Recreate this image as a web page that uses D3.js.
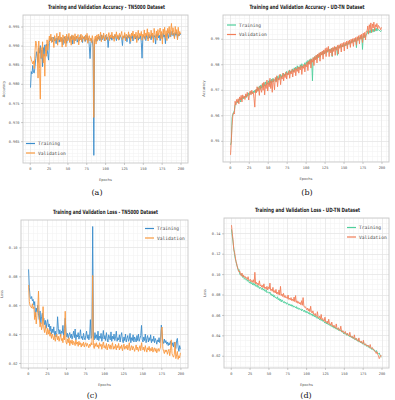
<!DOCTYPE html>
<html>
<head>
<meta charset="utf-8">
<script src="https://cdn.jsdelivr.net/npm/d3@7"></script>
<style>
  body { margin: 0; background: #fff; }
  svg { display: block; }
  .tick text { font-family: "DejaVu Sans Mono", monospace; fill: #555; }
  .grid line { shape-rendering: crispEdges; }
</style>
</head>
<body>
<svg id="chart"></svg>
<script>
// ---- data ----
const epochs = d3.range(1, 201);
const xTicks = [0, 25, 50, 75, 100, 125, 150, 175, 200];
const seriesNames = ["Training", "Validation"];

const accTn5000Train = [
  0.9790,0.9832,0.9826,0.9848,0.9830,0.9828,0.9846,0.9866,0.9884,0.9872,
  0.9856,0.9894,0.9880,0.9900,0.9866,0.9888,0.9845,0.9895,0.9872,0.9902,
  0.9886,0.9904,0.9893,0.9876,0.9862,0.9908,0.9919,0.9914,0.9921,0.9910,
  0.9916,0.9922,0.9912,0.9918,0.9905,0.9920,0.9914,0.9924,0.9909,0.9917,
  0.9921,0.9911,0.9919,0.9902,0.9916,0.9923,0.9913,0.9920,0.9906,0.9918,
  0.9924,0.9914,0.9910,0.9921,0.9917,0.9926,0.9904,0.9919,0.9922,0.9912,
  0.9918,0.9925,0.9909,0.9916,0.9921,0.9913,0.9927,0.9915,0.9920,0.9908,
  0.9922,0.9917,0.9924,0.9911,0.9919,0.9926,0.9914,0.9920,0.9898,0.9866,
  0.9905,0.9918,0.9912,0.9896,0.9613,0.9908,0.9915,0.9920,0.9911,0.9922,
  0.9917,0.9925,0.9913,0.9919,0.9928,0.9915,0.9921,0.9926,0.9912,0.9920,
  0.9927,0.9916,0.9922,0.9895,0.9919,0.9925,0.9918,0.9923,0.9914,0.9926,
  0.9920,0.9917,0.9928,0.9921,0.9913,0.9925,0.9919,0.9924,0.9916,0.9927,
  0.9922,0.9918,0.9900,0.9925,0.9920,0.9927,0.9915,0.9923,0.9910,0.9926,
  0.9921,0.9928,0.9905,0.9924,0.9919,0.9926,0.9912,0.9922,0.9929,0.9917,
  0.9925,0.9920,0.9927,0.9914,0.9923,0.9918,0.9926,0.9908,0.9867,0.9921,
  0.9927,0.9919,0.9925,0.9913,0.9928,0.9922,0.9917,0.9929,0.9920,0.9926,
  0.9915,0.9930,0.9923,0.9918,0.9927,0.9921,0.9904,0.9929,0.9924,0.9931,
  0.9920,0.9927,0.9913,0.9930,0.9925,0.9918,0.9932,0.9922,0.9928,0.9905,
  0.9930,0.9924,0.9933,0.9919,0.9929,0.9935,0.9923,0.9931,0.9938,0.9926,
  0.9932,0.9920,0.9934,0.9927,0.9936,0.9918,0.9930,0.9925,0.9933,0.9928
];
const accTn5000Val = [
  0.9872,0.9864,0.9858,0.9852,0.9860,0.9840,0.9886,0.9912,0.9905,0.9880,
  0.9815,0.9912,0.9840,0.9760,0.9895,0.9868,0.9910,0.9855,0.9878,0.9820,
  0.9898,0.9872,0.9915,0.9888,0.9905,0.9925,0.9912,0.9930,0.9908,0.9922,
  0.9918,0.9895,0.9926,0.9912,0.9920,0.9932,0.9901,0.9924,0.9915,0.9935,
  0.9910,0.9922,0.9896,0.9928,0.9918,0.9906,0.9925,0.9897,0.9930,0.9912,
  0.9920,0.9932,0.9908,0.9924,0.9901,0.9928,0.9915,0.9926,0.9905,0.9931,
  0.9913,0.9924,0.9918,0.9929,0.9902,0.9922,0.9915,0.9930,0.9910,0.9926,
  0.9918,0.9923,0.9911,0.9928,0.9915,0.9932,0.9906,0.9921,0.9926,0.9912,
  0.9920,0.9908,0.9926,0.9915,0.9712,0.9918,0.9925,0.9904,0.9928,0.9913,
  0.9930,0.9916,0.9923,0.9935,0.9910,0.9927,0.9918,0.9933,0.9920,0.9912,
  0.9926,0.9930,0.9915,0.9922,0.9934,0.9913,0.9928,0.9920,0.9935,0.9918,
  0.9925,0.9911,0.9930,0.9922,0.9936,0.9917,0.9928,0.9914,0.9932,0.9923,
  0.9929,0.9937,0.9915,0.9926,0.9920,0.9934,0.9912,0.9930,0.9924,0.9918,
  0.9936,0.9922,0.9929,0.9911,0.9933,0.9925,0.9938,0.9916,0.9930,0.9921,
  0.9935,0.9908,0.9928,0.9940,0.9919,0.9932,0.9925,0.9937,0.9914,0.9930,
  0.9922,0.9941,0.9916,0.9933,0.9926,0.9944,0.9912,0.9935,0.9928,0.9918,
  0.9940,0.9924,0.9933,0.9908,0.9945,0.9929,0.9920,0.9938,0.9914,0.9942,
  0.9926,0.9935,0.9946,0.9918,0.9937,0.9904,0.9943,0.9929,0.9948,0.9921,
  0.9939,0.9913,0.9945,0.9932,0.9950,0.9922,0.9941,0.9958,0.9928,0.9947,
  0.9935,0.9918,0.9950,0.9930,0.9942,0.9915,0.9948,0.9925,0.9937,0.9930
];
const accUdtnTrain = [
  0.9484,0.9495,0.9590,0.9605,0.9612,0.9618,0.9640,0.9645,0.9650,0.9655,
  0.9648,0.9660,0.9665,0.9652,0.9668,0.9662,0.9671,0.9665,0.9674,0.9669,
  0.9677,0.9670,0.9682,0.9675,0.9688,0.9679,0.9690,0.9684,0.9692,0.9686,
  0.9695,0.9688,0.9698,0.9691,0.9703,0.9694,0.9710,0.9697,0.9715,0.9701,
  0.9719,0.9706,0.9722,0.9710,0.9726,0.9714,0.9731,0.9718,0.9728,0.9722,
  0.9735,0.9719,0.9738,0.9726,0.9741,0.9729,0.9745,0.9732,0.9740,0.9736,
  0.9748,0.9733,0.9752,0.9740,0.9756,0.9744,0.9760,0.9748,0.9757,0.9751,
  0.9765,0.9754,0.9762,0.9758,0.9772,0.9759,0.9768,0.9763,0.9778,0.9765,
  0.9774,0.9769,0.9782,0.9770,0.9786,0.9775,0.9789,0.9778,0.9794,0.9781,
  0.9790,0.9784,0.9798,0.9785,0.9802,0.9789,0.9795,0.9792,0.9806,0.9794,
  0.9810,0.9798,0.9815,0.9801,0.9818,0.9806,0.9822,0.9810,0.9735,0.9826,
  0.9814,0.9830,0.9818,0.9834,0.9822,0.9838,0.9826,0.9842,0.9829,0.9846,
  0.9836,0.9849,0.9837,0.9853,0.9840,0.9852,0.9844,0.9856,0.9847,0.9858,
  0.9850,0.9860,0.9852,0.9862,0.9830,0.9864,0.9855,0.9866,0.9857,0.9868,
  0.9860,0.9835,0.9862,0.9872,0.9864,0.9874,0.9866,0.9876,0.9868,0.9878,
  0.9870,0.9880,0.9872,0.9883,0.9875,0.9886,0.9878,0.9889,0.9881,0.9892,
  0.9884,0.9895,0.9887,0.9898,0.9890,0.9900,0.9865,0.9903,0.9895,0.9906,
  0.9898,0.9908,0.9900,0.9910,0.9858,0.9912,0.9904,0.9915,0.9906,0.9918,
  0.9918,0.9930,0.9920,0.9932,0.9922,0.9935,0.9924,0.9937,0.9926,0.9938,
  0.9928,0.9940,0.9930,0.9942,0.9932,0.9936,0.9934,0.9930,0.9928,0.9933
];
const accUdtnVal = [
  0.9445,0.9500,0.9560,0.9598,0.9610,0.9605,0.9655,0.9640,0.9662,0.9651,
  0.9665,0.9645,0.9672,0.9660,0.9678,0.9652,0.9680,0.9668,0.9675,0.9662,
  0.9684,0.9672,0.9690,0.9676,0.9660,0.9688,0.9695,0.9680,0.9698,0.9685,
  0.9690,0.9665,0.9632,0.9700,0.9688,0.9712,0.9694,0.9708,0.9678,0.9715,
  0.9702,0.9690,0.9725,0.9698,0.9730,0.9680,0.9720,0.9705,0.9738,0.9695,
  0.9728,0.9712,0.9745,0.9705,0.9735,0.9690,0.9742,0.9728,0.9700,0.9748,
  0.9730,0.9755,0.9712,0.9745,0.9738,0.9760,0.9720,0.9752,0.9742,0.9765,
  0.9735,0.9760,0.9748,0.9770,0.9742,0.9765,0.9758,0.9775,0.9745,0.9772,
  0.9762,0.9780,0.9750,0.9776,0.9768,0.9785,0.9755,0.9782,0.9772,0.9790,
  0.9765,0.9788,0.9778,0.9795,0.9760,0.9792,0.9784,0.9800,0.9770,0.9798,
  0.9790,0.9808,0.9775,0.9812,0.9800,0.9818,0.9785,0.9820,0.9808,0.9826,
  0.9795,0.9830,0.9818,0.9836,0.9805,0.9840,0.9828,0.9845,0.9812,0.9848,
  0.9836,0.9852,0.9820,0.9856,0.9842,0.9862,0.9830,0.9865,0.9850,0.9870,
  0.9830,0.9858,0.9845,0.9862,0.9832,0.9866,0.9850,0.9870,0.9835,0.9868,
  0.9855,0.9874,0.9840,0.9876,0.9862,0.9880,0.9848,0.9882,0.9868,0.9885,
  0.9852,0.9886,0.9874,0.9890,0.9860,0.9892,0.9878,0.9895,0.9866,0.9898,
  0.9882,0.9900,0.9870,0.9902,0.9888,0.9905,0.9875,0.9908,0.9892,0.9912,
  0.9880,0.9915,0.9898,0.9918,0.9885,0.9922,0.9904,0.9925,0.9895,0.9930,
  0.9928,0.9950,0.9918,0.9955,0.9935,0.9962,0.9925,0.9958,0.9942,0.9965,
  0.9930,0.9955,0.9945,0.9960,0.9938,0.9952,0.9948,0.9942,0.9935,0.9945
];
const lossTn5000Train = [
  0.0848,0.0720,0.0655,0.0645,0.0660,0.0630,0.0640,0.0600,0.0625,0.0520,
  0.0580,0.0555,0.0600,0.0540,0.0500,0.0560,0.0470,0.0520,0.0545,0.0490,
  0.0510,0.0465,0.0495,0.0440,0.0480,0.0500,0.0450,0.0470,0.0420,0.0455,
  0.0400,0.0435,0.0410,0.0450,0.0390,0.0420,0.0380,0.0410,0.0520,0.0440,
  0.0400,0.0430,0.0385,0.0420,0.0405,0.0460,0.0390,0.0440,0.0510,0.0420,
  0.0380,0.0405,0.0370,0.0395,0.0410,0.0375,0.0400,0.0365,0.0390,0.0420,
  0.0375,0.0435,0.0360,0.0395,0.0380,0.0410,0.0365,0.0390,0.0430,0.0370,
  0.0385,0.0360,0.0405,0.0375,0.0360,0.0390,0.0420,0.0370,0.0395,0.0360,
  0.0385,0.0500,0.0370,0.0390,0.1145,0.0380,0.0360,0.0410,0.0370,0.0395,
  0.0360,0.0420,0.0355,0.0385,0.0370,0.0405,0.0350,0.0380,0.0425,0.0365,
  0.0390,0.0355,0.0410,0.0370,0.0345,0.0395,0.0380,0.0360,0.0415,0.0350,
  0.0385,0.0365,0.0400,0.0355,0.0380,0.0420,0.0350,0.0375,0.0360,0.0395,
  0.0345,0.0385,0.0410,0.0360,0.0340,0.0380,0.0355,0.0400,0.0345,0.0370,
  0.0390,0.0350,0.0365,0.0405,0.0340,0.0375,0.0355,0.0395,0.0345,0.0380,
  0.0365,0.0345,0.0390,0.0355,0.0400,0.0350,0.0370,0.0390,0.0460,0.0360,
  0.0345,0.0380,0.0355,0.0400,0.0340,0.0370,0.0390,0.0345,0.0375,0.0355,
  0.0395,0.0340,0.0365,0.0350,0.0385,0.0340,0.0370,0.0355,0.0330,0.0360,
  0.0345,0.0375,0.0340,0.0360,0.0462,0.0400,0.0350,0.0335,0.0365,0.0340,
  0.0355,0.0330,0.0345,0.0320,0.0340,0.0325,0.0350,0.0330,0.0320,0.0340,
  0.0310,0.0345,0.0325,0.0300,0.0355,0.0370,0.0310,0.0280,0.0320,0.0295
];
const lossTn5000Val = [
  0.0740,0.0625,0.0595,0.0590,0.0580,0.0610,0.0575,0.0590,0.0500,0.0550,
  0.0470,0.0530,0.0580,0.0698,0.0520,0.0450,0.0480,0.0430,0.0455,0.0590,
  0.0440,0.0410,0.0460,0.0420,0.0395,0.0440,0.0400,0.0430,0.0385,0.0410,
  0.0370,0.0400,0.0380,0.0360,0.0395,0.0350,0.0380,0.0400,0.0360,0.0385,
  0.0350,0.0375,0.0400,0.0355,0.0370,0.0340,0.0390,0.0360,0.0558,0.0345,
  0.0330,0.0365,0.0340,0.0375,0.0320,0.0355,0.0335,0.0360,0.0325,0.0350,
  0.0340,0.0320,0.0360,0.0330,0.0345,0.0315,0.0350,0.0325,0.0340,0.0310,
  0.0335,0.0320,0.0345,0.0310,0.0330,0.0340,0.0315,0.0335,0.0320,0.0305,
  0.0330,0.0315,0.0340,0.0325,0.0806,0.0320,0.0300,0.0335,0.0315,0.0340,
  0.0310,0.0325,0.0300,0.0340,0.0315,0.0330,0.0295,0.0325,0.0345,0.0305,
  0.0320,0.0300,0.0335,0.0290,0.0315,0.0330,0.0300,0.0325,0.0295,0.0320,
  0.0340,0.0295,0.0315,0.0300,0.0330,0.0290,0.0320,0.0305,0.0335,0.0290,
  0.0315,0.0300,0.0325,0.0285,0.0310,0.0330,0.0295,0.0315,0.0300,0.0325,
  0.0290,0.0310,0.0340,0.0285,0.0305,0.0320,0.0290,0.0315,0.0300,0.0280,
  0.0305,0.0325,0.0290,0.0310,0.0280,0.0300,0.0320,0.0285,0.0340,0.0300,
  0.0290,0.0310,0.0280,0.0320,0.0295,0.0275,0.0305,0.0290,0.0315,0.0280,
  0.0300,0.0285,0.0310,0.0275,0.0295,0.0305,0.0280,0.0300,0.0270,0.0290,
  0.0300,0.0280,0.0295,0.0310,0.0430,0.0448,0.0300,0.0280,0.0265,0.0290,
  0.0275,0.0290,0.0260,0.0280,0.0295,0.0250,0.0285,0.0360,0.0265,0.0250,
  0.0240,0.0260,0.0345,0.0230,0.0255,0.0280,0.0225,0.0250,0.0235,0.0270
];
const lossUdtnTrain = [
  0.1440,0.1370,0.1315,0.1255,0.1195,0.1150,0.1125,0.1085,0.1070,0.1035,
  0.1045,0.1000,0.0990,0.1005,0.0975,0.0968,0.0982,0.0950,0.0958,0.0945,
  0.0952,0.0930,0.0942,0.0925,0.0912,0.0928,0.0905,0.0918,0.0895,0.0910,
  0.0890,0.0908,0.0882,0.0878,0.0895,0.0870,0.0880,0.0858,0.0872,0.0862,
  0.0850,0.0866,0.0842,0.0855,0.0835,0.0830,0.0848,0.0818,0.0826,0.0820,
  0.0812,0.0825,0.0798,0.0805,0.0785,0.0800,0.0775,0.0790,0.0768,0.0772,
  0.0760,0.0778,0.0748,0.0762,0.0740,0.0755,0.0728,0.0748,0.0735,0.0720,
  0.0732,0.0715,0.0725,0.0705,0.0718,0.0712,0.0695,0.0708,0.0690,0.0702,
  0.0685,0.0698,0.0676,0.0688,0.0680,0.0668,0.0682,0.0660,0.0672,0.0655,
  0.0665,0.0652,0.0660,0.0640,0.0655,0.0645,0.0632,0.0648,0.0625,0.0638,
  0.0620,0.0632,0.0612,0.0625,0.0605,0.0615,0.0598,0.0610,0.0588,0.0602,
  0.0582,0.0595,0.0575,0.0570,0.0585,0.0560,0.0568,0.0552,0.0565,0.0545,
  0.0555,0.0538,0.0548,0.0530,0.0520,0.0535,0.0512,0.0525,0.0505,0.0510,
  0.0498,0.0508,0.0488,0.0495,0.0480,0.0492,0.0470,0.0482,0.0465,0.0472,
  0.0458,0.0468,0.0448,0.0460,0.0442,0.0450,0.0432,0.0445,0.0425,0.0415,
  0.0428,0.0410,0.0418,0.0400,0.0412,0.0395,0.0402,0.0385,0.0395,0.0378,
  0.0388,0.0370,0.0382,0.0362,0.0358,0.0372,0.0350,0.0345,0.0358,0.0335,
  0.0342,0.0328,0.0338,0.0320,0.0315,0.0335,0.0310,0.0302,0.0312,0.0295,
  0.0290,0.0302,0.0282,0.0288,0.0272,0.0280,0.0262,0.0270,0.0255,0.0262,
  0.0248,0.0240,0.0252,0.0232,0.0225,0.0218,0.0228,0.0205,0.0195,0.0188
];
const lossUdtnVal = [
  0.1480,0.1400,0.1340,0.1240,0.1215,0.1170,0.1120,0.1100,0.1060,0.1045,
  0.1020,0.1030,0.1000,0.0985,0.1010,0.0975,0.0990,0.0968,0.0978,0.0960,
  0.0965,0.0948,0.0975,0.0940,0.0935,0.0950,0.0925,0.0938,0.0920,0.0945,
  0.0915,0.1018,0.0905,0.0920,0.0898,0.0912,0.0890,0.0935,0.0885,0.0895,
  0.0872,0.0890,0.0868,0.0905,0.0860,0.0872,0.0852,0.0880,0.0845,0.0875,
  0.0855,0.0912,0.0840,0.0852,0.0832,0.0870,0.0822,0.0838,0.0815,0.0850,
  0.0805,0.0822,0.0800,0.0845,0.0795,0.0880,0.0790,0.0805,0.0780,0.0812,
  0.0772,0.0790,0.0768,0.0778,0.0760,0.0795,0.0752,0.0765,0.0748,0.0770,
  0.0740,0.0755,0.0735,0.0775,0.0730,0.0790,0.0722,0.0738,0.0715,0.0730,
  0.0708,0.0722,0.0700,0.0740,0.0695,0.0770,0.0688,0.0675,0.0680,0.0665,
  0.0650,0.0668,0.0640,0.0660,0.0632,0.0685,0.0625,0.0618,0.0640,0.0605,
  0.0598,0.0615,0.0590,0.0585,0.0632,0.0575,0.0570,0.0588,0.0560,0.0605,
  0.0552,0.0565,0.0545,0.0538,0.0578,0.0530,0.0525,0.0540,0.0515,0.0558,
  0.0508,0.0515,0.0498,0.0530,0.0490,0.0485,0.0500,0.0478,0.0472,0.0512,
  0.0465,0.0458,0.0475,0.0452,0.0448,0.0490,0.0440,0.0432,0.0445,0.0425,
  0.0420,0.0438,0.0412,0.0408,0.0422,0.0398,0.0395,0.0430,0.0388,0.0382,
  0.0392,0.0375,0.0370,0.0405,0.0362,0.0358,0.0370,0.0348,0.0342,0.0375,
  0.0338,0.0332,0.0345,0.0325,0.0320,0.0352,0.0312,0.0308,0.0318,0.0298,
  0.0295,0.0305,0.0288,0.0282,0.0310,0.0275,0.0270,0.0280,0.0262,0.0258,
  0.0245,0.0235,0.0222,0.0240,0.0212,0.0200,0.0172,0.0185,0.0205,0.0200
];

const accTn5000Ticks = [0.965, 0.970, 0.975, 0.980, 0.985, 0.990, 0.995];
const accUdtnTicks = [0.95, 0.96, 0.97, 0.98, 0.99];
const lossTn5000Ticks = [0.02, 0.04, 0.06, 0.08, 0.10];
const lossUdtnTicks = [0.02, 0.04, 0.06, 0.08, 0.10, 0.12, 0.14];

// ---- layout ----
const width = 395, height = 400;
const svg = d3.select("#chart").attr("width", width).attr("height", height);

const tabColors = ["#3b8ccb", "#f9993f"];
const set2Colors = ["#4fcf9c", "#f27e58"];

const panels = [
  {
    title: "Training and Validation Accuracy - TN5000 Dataset",
    yLabel: "Accuracy", tag: "(a)",
    frame: { x0: 23, x1: 188, y0: 15, y1: 163 },
    yDomain: [0.9593, 0.9980], yTicks: accTn5000Ticks, yFormat: ".3f", yMinor: 0.001,
    series: [accTn5000Train, accTn5000Val], colors: tabColors,
    legend: { x: 26, y: 143.5 }, tagPos: { x: 97, y: 195 }, titleLen: 117
  },
  {
    title: "Training and Validation Accuracy - UD-TN Dataset",
    yLabel: "Accuracy", tag: "(b)",
    frame: { x0: 223, x1: 389, y0: 15, y1: 162 },
    yDomain: [0.9417, 0.9993], yTicks: accUdtnTicks, yFormat: ".2f", yMinor: 0.002,
    series: [accUdtnTrain, accUdtnVal], colors: set2Colors,
    legend: { x: 227, y: 25 }, tagPos: { x: 307, y: 195 }, titleLen: 115
  },
  {
    title: "Training and Validation Loss - TN5000 Dataset",
    yLabel: "Loss", tag: "(c)",
    frame: { x0: 21, x1: 188, y0: 220, y1: 368 },
    yDomain: [0.0165, 0.1190], yTicks: lossTn5000Ticks, yFormat: ".2f", yMinor: 0.005,
    series: [lossTn5000Train, lossTn5000Val], colors: tabColors,
    legend: { x: 145, y: 228.5 }, tagPos: { x: 92, y: 398 }, titleLen: 105
  },
  {
    title: "Training and Validation Loss - UD-TN Dataset",
    yLabel: "Loss", tag: "(d)",
    frame: { x0: 224, x1: 389, y0: 218, y1: 368 },
    yDomain: [0.0080, 0.1550], yTicks: lossUdtnTicks, yFormat: ".2f", yMinor: 0.005,
    series: [lossUdtnTrain, lossUdtnVal], colors: set2Colors,
    legend: { x: 347, y: 227.5 }, tagPos: { x: 306, y: 398 }, titleLen: 105
  }
];

function stepValues(lo, hi, step) {
  const start = Math.ceil(lo / step), end = Math.floor(hi / step);
  return d3.range(start, end + 1).map(i => +(i * step).toFixed(6));
}

function drawPanel(p) {
  const f = p.frame;
  const w = f.x1 - f.x0, h = f.y1 - f.y0;
  const g = svg.append("g");

  const x = d3.scaleLinear().domain([-8.95, 209.95]).range([f.x0, f.x1]);
  const y = d3.scaleLinear().domain(p.yDomain).range([f.y1, f.y0]);

  g.append("rect")
    .attr("x", f.x0).attr("y", f.y0).attr("width", w).attr("height", h)
    .attr("fill", "#fff");

  // minor grid, then major grid
  const xMinor = stepValues(x.domain()[0], x.domain()[1], 6.25);
  const yMinor = stepValues(p.yDomain[0], p.yDomain[1], p.yMinor);

  g.append("g").attr("class", "grid")
    .attr("transform", `translate(0,${f.y1})`)
    .call(d3.axisBottom(x).tickValues(xMinor).tickSize(-h).tickFormat(""))
    .call(s => s.select(".domain").remove())
    .selectAll("line").attr("stroke", "#f1f1f1").attr("stroke-width", 0.5);
  g.append("g").attr("class", "grid")
    .attr("transform", `translate(${f.x0},0)`)
    .call(d3.axisLeft(y).tickValues(yMinor).tickSize(-w).tickFormat(""))
    .call(s => s.select(".domain").remove())
    .selectAll("line").attr("stroke", "#f1f1f1").attr("stroke-width", 0.5);
  g.append("g").attr("class", "grid")
    .attr("transform", `translate(0,${f.y1})`)
    .call(d3.axisBottom(x).tickValues(xTicks).tickSize(-h).tickFormat(""))
    .call(s => s.select(".domain").remove())
    .selectAll("line").attr("stroke", "#e3e3e3").attr("stroke-width", 0.6);
  g.append("g").attr("class", "grid")
    .attr("transform", `translate(${f.x0},0)`)
    .call(d3.axisLeft(y).tickValues(p.yTicks).tickSize(-w).tickFormat(""))
    .call(s => s.select(".domain").remove())
    .selectAll("line").attr("stroke", "#e3e3e3").attr("stroke-width", 0.6);

  // lines
  const line = d3.line().x((d, i) => x(epochs[i])).y(d => y(d));
  p.series.forEach((values, k) => {
    g.append("path")
      .datum(values)
      .attr("fill", "none")
      .attr("stroke", p.colors[k])
      .attr("stroke-width", 0.9)
      .attr("stroke-linejoin", "round")
      .attr("d", line);
  });

  // frame
  g.append("rect")
    .attr("x", f.x0).attr("y", f.y0).attr("width", w).attr("height", h)
    .attr("fill", "none").attr("stroke", "#c8c8c8").attr("stroke-width", 0.9);

  // axes
  const xAxis = g.append("g")
    .attr("transform", `translate(0,${f.y1})`)
    .call(d3.axisBottom(x).tickValues(xTicks).tickSize(2).tickPadding(2).tickFormat(d3.format("d")));
  const yAxis = g.append("g")
    .attr("transform", `translate(${f.x0},0)`)
    .call(d3.axisLeft(y).tickValues(p.yTicks).tickSize(2).tickPadding(1.5).tickFormat(d3.format(p.yFormat)));
  [xAxis, yAxis].forEach(a => {
    a.select(".domain").remove();
    a.selectAll(".tick line").attr("stroke", "#999").attr("stroke-width", 0.5);
    a.selectAll(".tick text").attr("font-size", 3.6);
  });

  // labels
  g.append("text")
    .attr("x", (f.x0 + f.x1) / 2 + 1).attr("y", f.y0 - 6)
    .attr("text-anchor", "middle")
    .attr("font-family", "'Liberation Sans Narrow', 'DejaVu Sans Condensed', sans-serif")
    .attr("font-weight", "bold").attr("font-size", 5.8).attr("fill", "#222")
    .attr("textLength", p.titleLen).attr("lengthAdjust", "spacingAndGlyphs")
    .text(p.title);
  g.append("text")
    .attr("x", (f.x0 + f.x1) / 2).attr("y", f.y1 + 17.5)
    .attr("text-anchor", "middle")
    .attr("font-family", "'DejaVu Sans', sans-serif")
    .attr("font-size", 3.6).attr("fill", "#555")
    .text("Epochs");
  g.append("text")
    .attr("transform", `translate(${f.x0 - 18},${(f.y0 + f.y1) / 2}) rotate(-90)`)
    .attr("text-anchor", "middle")
    .attr("font-family", "'DejaVu Sans', sans-serif")
    .attr("font-size", 3.6).attr("fill", "#555")
    .text(p.yLabel);
  g.append("text")
    .attr("x", p.tagPos.x).attr("y", p.tagPos.y)
    .attr("text-anchor", "middle")
    .attr("font-family", "'DejaVu Serif', serif")
    .attr("font-size", 8).attr("fill", "#111")
    .text(p.tag);

  // legend
  const lg = g.append("g").attr("transform", `translate(${p.legend.x},${p.legend.y})`);
  seriesNames.forEach((name, k) => {
    lg.append("line")
      .attr("x1", 0).attr("x2", 9).attr("y1", k * 9.5).attr("y2", k * 9.5)
      .attr("stroke", p.colors[k]).attr("stroke-width", 1.2);
    lg.append("text")
      .attr("x", 12).attr("y", k * 9.5 + 1.6)
      .attr("font-family", "'DejaVu Sans Mono', monospace")
      .attr("font-size", 4.6).attr("fill", "#444")
      .text(name);
  });
}

panels.forEach(drawPanel);
</script>
</body>
</html>
